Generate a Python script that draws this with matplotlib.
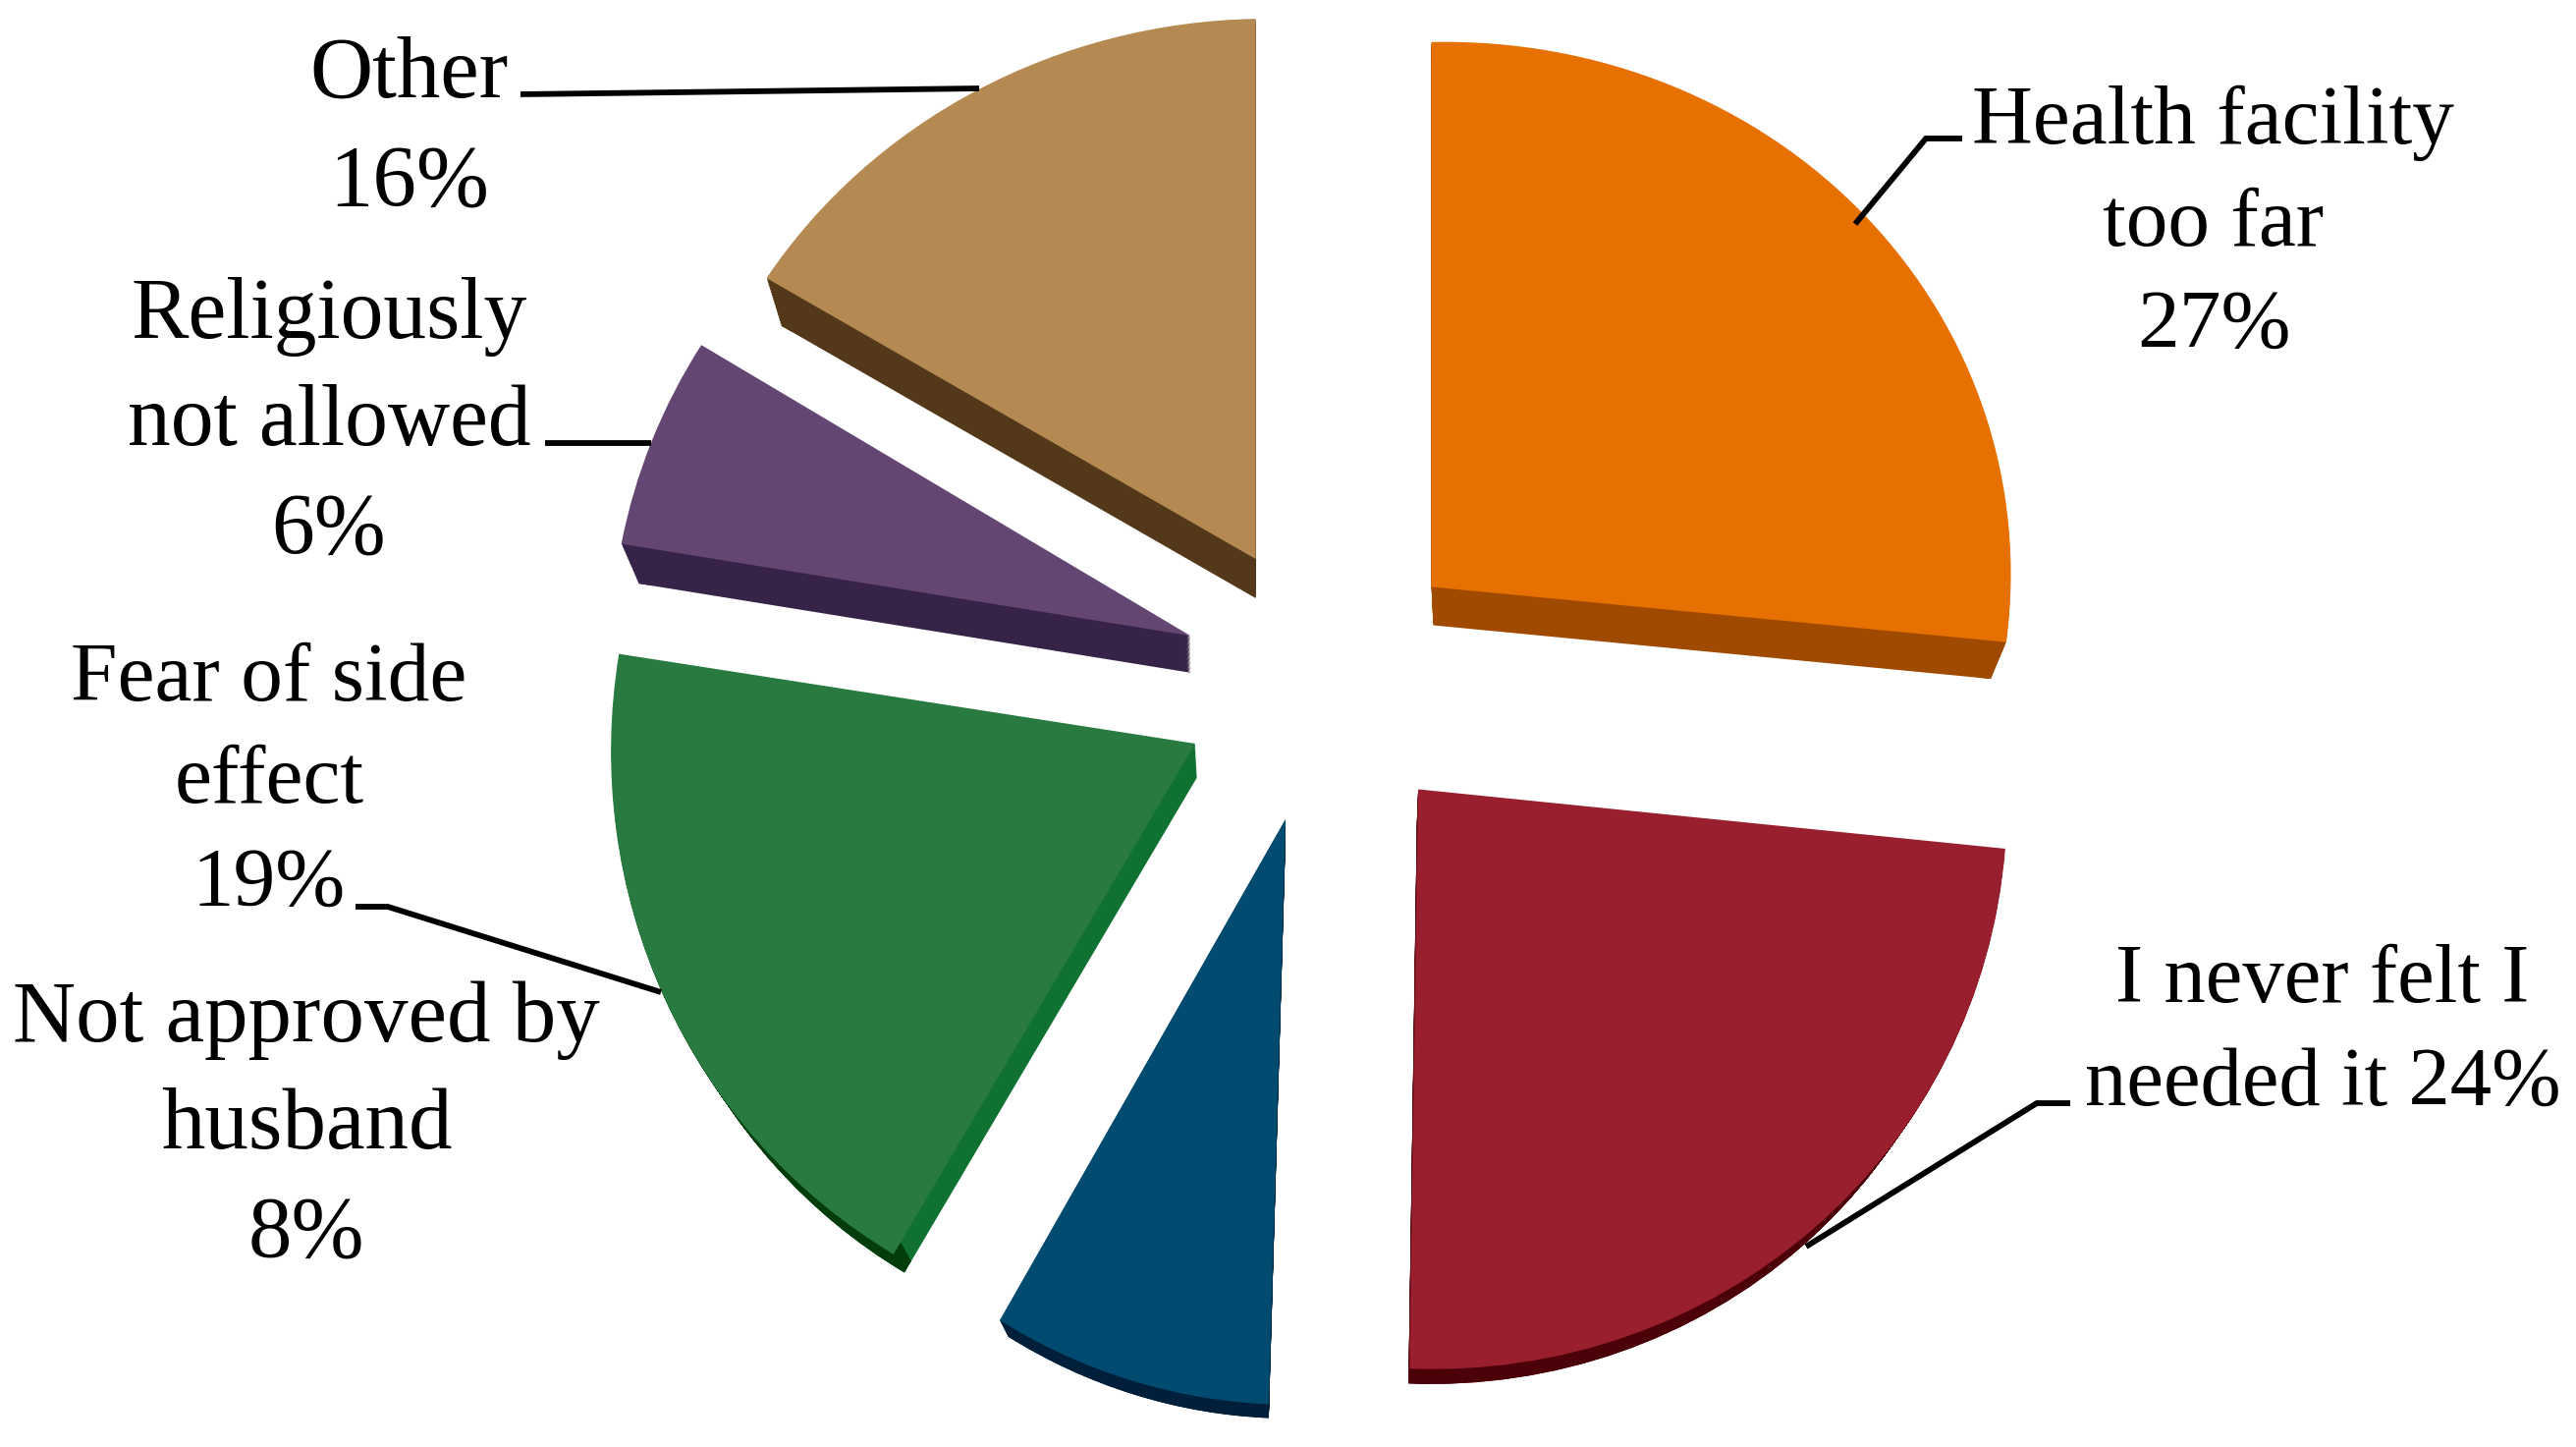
# coding=utf-8
import matplotlib
matplotlib.use('Agg')
import matplotlib.pyplot as plt
from matplotlib.patches import Wedge
from matplotlib.transforms import Affine2D

W, H = 2623, 1473

# 数据
categories = ['Health facility\ntoo far', 'I never felt I\nneeded it', 'Not approved by\nhusband',
              'Fear of side\neffect', 'Religiously\nnot allowed', 'Other']
values = [27, 24, 8, 19, 6, 16]
label_texts = ['Health facility\ntoo far\n27%', 'I never felt I\nneeded it 24%', 'Not approved by\nhusband\n8%',
               'Fear of side\neffect\n19%', 'Religiously\nnot allowed\n6%', 'Other\n16%']

# 样式
top_colors = ['#E67000', '#9A1F2E', '#004B6F', '#287A40', '#644672', '#B58A52']
side_colors = ['#A04A00', '#5A0A12', '#002A45', '#0F7232', '#372347', '#53381A']
arc_colors = ['#A04A00', '#4C0008', '#001F3A', '#033D0C', '#372347', '#53381A']
label_sizes = [61.5, 61, 64, 61.5, 63, 64]

# 版面
label_xy = [(2254, 229), (2365, 1052), (312, 1148), (274, 797), (335, 432), (417, 132)]
leaders = [[(1889, 228), (1961, 141), (1998, 141)],
           [(1839, 1269), (2074, 1123), (2108, 1123)],
           [(673, 1010), (395, 923), (362, 923)],
           [(663, 451), (555, 451)],
           [(997, 90), (530, 96)]]
# 透视造成的每块变形
squash_x = [1.0, 1.015, 0.97, 1.008, 1.0, 1.0]
squash_y = [0.94, 1.0, 1.01, 1.02, 0.975, 0.932]
skew_x = [0, -2.8, -1.8, -1.3, 0, 0]
skew_y = [1.3, 1.3, 1.3, 2.1, 1.4, 1.0]
nudge = [(2, -2), (5, -5), (8, -1), (5, 3), (2, 5), (3, 1)]
vanish_x = [1520, 1400, 1300, 1280, 1220, 1279]
vanish_y = H - 1900
depth = 0.03

fig = plt.figure(figsize=(W / 100, H / 100), dpi=100)
ax = fig.add_axes([0, 0, 1, 1])

wedges, _ = ax.pie(values, explode=[146] * 6, center=(1346, H - 696), radius=590,
                   startangle=90, counterclock=False, colors=top_colors,
                   wedgeprops={'zorder': 5, 'linewidth': 0})

for i, w in enumerate(wedges):
    cx, cy = w.center
    base = (Affine2D().translate(-cx, -cy).scale(squash_x[i], squash_y[i])
            .skew_deg(skew_x[i], skew_y[i]).translate(cx + nudge[i][0], cy - nudge[i][1]))
    w.set_transform(base + ax.transData)
    # 侧面：顶面朝消失点缩小，叠很多层
    for k in range(30, 0, -1):
        s = 1 - depth * k / 30
        t = base + Affine2D().translate(-vanish_x[i], -vanish_y).scale(s).translate(vanish_x[i], vanish_y)
        side = Wedge((cx, cy), w.r, w.theta1, w.theta2, color=side_colors[i], lw=0, zorder=2)
        side.set_transform(t + ax.transData)
        ax.add_patch(side)
        band = Wedge((cx, cy), w.r, w.theta1, w.theta2, width=14, color=arc_colors[i], lw=0, zorder=3)
        band.set_transform(t + ax.transData)
        ax.add_patch(band)

for line in leaders:
    ax.plot([p[0] for p in line], [H - p[1] for p in line], color='black', lw=4.2,
            solid_joinstyle='miter', solid_capstyle='butt', zorder=6)

for txt, (x, y), size in zip(label_texts, label_xy, label_sizes):
    ax.text(x, H - y, txt, ha='center', va='center', fontsize=size, family='Liberation Serif',
            linespacing=1.46, color='black', zorder=7)

ax.set_aspect('auto')
ax.set_xlim(0, W)
ax.set_ylim(0, H)
ax.axis('off')

fig.savefig('out.png', dpi=100, facecolor='white')
